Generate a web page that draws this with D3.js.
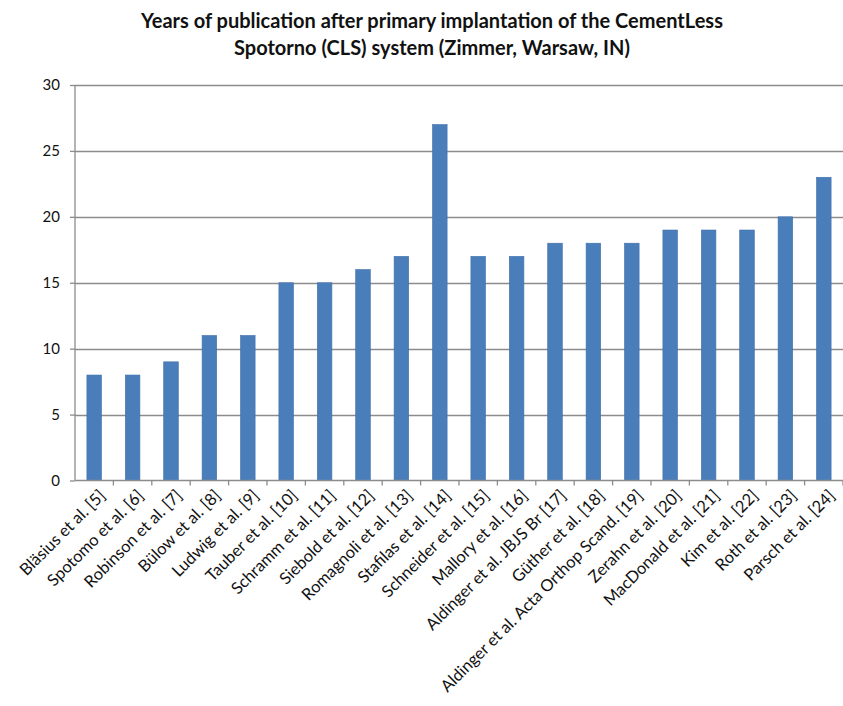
<!DOCTYPE html>
<html>
<head>
<meta charset="utf-8">
<script src="https://cdn.jsdelivr.net/npm/d3@7"></script>
<style>
  body { margin: 0; background: #fff; }
  text { font-family: Lato, "Open Sans", sans-serif; fill: #111; }
</style>
</head>
<body>
<script>
var width = 843,
    height = 706;

var studies = ["Bläsius et al. [5]", "Spotomo et al. [6]", "Robinson et al. [7]", "Bülow et al. [8]",
    "Ludwig et al. [9]", "Tauber et al. [10]", "Schramm et al. [11]", "Siebold et al. [12]",
    "Romagnoli et al. [13]", "Stafilas et al. [14]", "Schneider et al. [15]", "Mallory et al. [16]",
    "Aldinger et al. JBJS Br [17]", "Güther et al. [18]", "Aldinger et al. Acta Orthop Scand. [19]",
    "Zerahn et al. [20]", "MacDonald et al. [21]", "Kim et al. [22]", "Roth et al. [23]", "Parsch et al. [24]"];
var years = [8, 8, 9, 11, 11, 15, 15, 16, 17, 27, 17, 17, 18, 18, 18, 19, 19, 19, 20, 23];
var yTicks = [0, 5, 10, 15, 20, 25, 30];
var titleLines = ["Years of publication after primary implantation of the CementLess",
    "Spotorno (CLS) system (Zimmer, Warsaw, IN)"];

var margin = {top: 85, right: 0, bottom: 225, left: 75};

var svg = d3.select("body").append("svg")
    .attr("width", width)
    .attr("height", height);

var x = d3.scaleBand()
    .domain(studies)
    .range([margin.left, width - margin.right])
    .paddingInner(0.62)
    .paddingOuter(0.31);

var y = d3.scaleLinear()
    .domain([0, 30])
    .range([height - margin.bottom - 0.5, margin.top]);

// title
svg.append("g").selectAll("text")
    .data(titleLines)
    .enter().append("text")
    .attr("x", 432)
    .attr("y", function(d, i) { return 28 + i * 27; })
    .attr("text-anchor", "middle")
    .style("font-weight", "bold")
    .style("font-size", "20px")
    .text(function(d) { return d; });

// gridlines
svg.append("g").selectAll("line")
    .data(yTicks.slice(1))
    .enter().append("line")
    .attr("x1", margin.left)
    .attr("x2", width - margin.right)
    .attr("y1", function(d) { return Math.round(y(d)) + 0.5; })
    .attr("y2", function(d) { return Math.round(y(d)) + 0.5; })
    .style("stroke", "#8c8c8c")
    .style("stroke-width", 1.3);

// bars
svg.append("g").selectAll("rect")
    .data(years)
    .enter().append("rect")
    .attr("x", function(d, i) { return x(studies[i]); })
    .attr("width", x.bandwidth())
    .attr("y", function(d) { return y(d); })
    .attr("height", function(d) { return y(0) - y(d); })
    .style("fill", "#4a7ebb")
    .style("stroke", "#3f6fa8")
    .style("stroke-width", 0.6);

// y axis
var yAxis = svg.append("g")
    .attr("transform", "translate(" + margin.left + ",0)")
    .call(d3.axisLeft(y).tickValues(yTicks).tickSize(5).tickPadding(8));
yAxis.selectAll("line, path").style("stroke", "#8c8c8c").style("stroke-width", 1.3);
yAxis.select(".domain").attr("d", "M0," + y(30) + "V" + y(0));
yAxis.selectAll("text")
    .style("font-family", "Lato, 'Open Sans', sans-serif")
    .style("font-size", "15px")
    .attr("dx", "-2");

// x axis: ticks sit between categories
var xAxis = svg.append("g")
    .attr("transform", "translate(0," + y(0) + ")");
xAxis.append("line")
    .attr("x1", margin.left)
    .attr("x2", width)
    .style("stroke", "#8c8c8c")
    .style("stroke-width", 1.3);
xAxis.selectAll(".tick")
    .data(studies)
    .enter().append("line")
    .attr("class", "tick")
    .attr("x1", function(d, i) { return margin.left + (i + 1) * x.step(); })
    .attr("x2", function(d, i) { return margin.left + (i + 1) * x.step(); })
    .attr("y1", 0)
    .attr("y2", 5)
    .style("stroke", "#8c8c8c")
    .style("stroke-width", 1.3);

xAxis.selectAll(".label")
    .data(studies)
    .enter().append("text")
    .attr("class", "label")
    .attr("transform", function(d) {
        return "translate(" + (x(d) + x.bandwidth() / 2 + 8) + ",12) rotate(-45)";
    })
    .attr("text-anchor", "end")
    .attr("dy", "0.35em")
    .style("font-size", "16.5px")
    .text(function(d) { return d; });
</script>
</body>
</html>
